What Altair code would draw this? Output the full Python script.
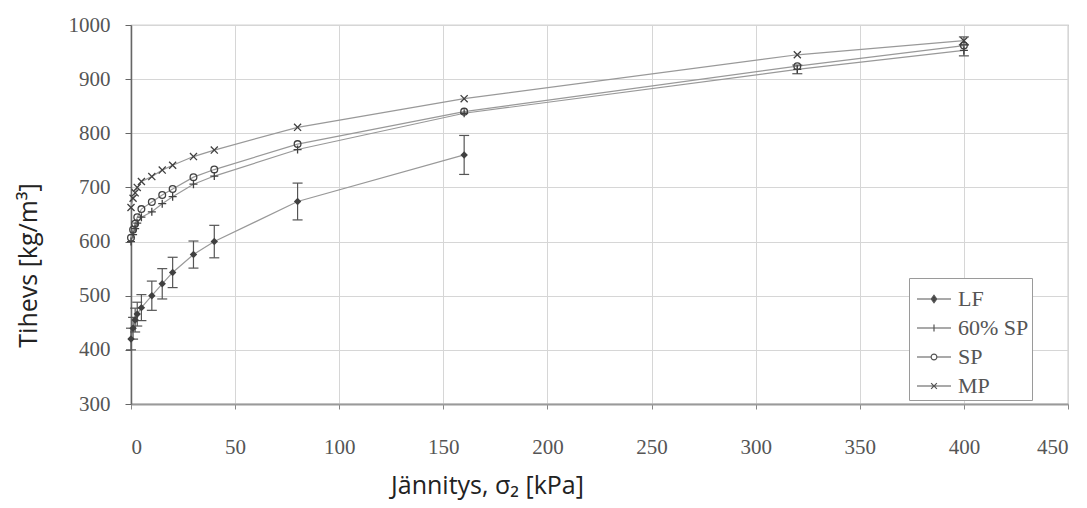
import altair as alt
import pandas as pd

# ---- data ----
series_names = ["LF", "60% SP", "SP", "MP"]

x_vals = [0, 1, 2, 3, 5, 10, 15, 20, 30, 40, 80, 160, 320, 400]

lf_x = [0, 1, 2, 3, 5, 10, 15, 20, 30, 40, 80, 160]
lf_y = [420, 440, 455, 466, 478, 500, 522, 543, 576, 600, 674, 760]
lf_err = [20, 20, 22, 22, 24, 27, 28, 28, 25, 30, 34, 36]

sp60_y = [600, 613, 624, 634, 645, 655, 670, 683, 706, 721, 770, 837, 918, 953]
sp60_err = [0, 0, 0, 0, 0, 0, 0, 0, 0, 0, 0, 0, 8, 10]

sp_y = [607, 622, 633, 645, 660, 673, 686, 697, 719, 733, 780, 840, 924, 962]
sp_err = [0, 0, 0, 0, 0, 0, 0, 0, 0, 0, 0, 0, 0, 0]

mp_y = [663, 680, 690, 700, 711, 720, 732, 741, 757, 769, 811, 864, 945, 971]
mp_err = [0, 0, 0, 0, 0, 0, 0, 0, 0, 0, 0, 0, 0, 7]

x_ticks = [0, 50, 100, 150, 200, 250, 300, 350, 400, 450]
y_ticks = [300, 400, 500, 600, 700, 800, 900, 1000]

# ---- build table ----
rows = []
for xs, ys, es, name in [
    (lf_x, lf_y, lf_err, "LF"),
    (x_vals, sp60_y, sp60_err, "60% SP"),
    (x_vals, sp_y, sp_err, "SP"),
    (x_vals, mp_y, mp_err, "MP"),
]:
    for xv, yv, ev in zip(xs, ys, es):
        rows.append({"series": name, "x": xv, "y": yv, "err": ev,
                     "lo": yv - ev, "hi": yv + ev})
df = pd.DataFrame(rows)

# ---- styles ----
LINE_C = "#999999"
MARK_C = "#404040"
SERIF = "Liberation Serif"
SANS = "Open Sans"

x_enc = alt.X("x:Q", scale=alt.Scale(domain=[0, 450], nice=False),
              axis=alt.Axis(values=x_ticks, grid=True, gridColor="#d6d6d6",
                            tickSize=5, tickColor="#888", domainColor="#9a9a9a",
                            domainWidth=2, labelFont=SERIF, labelFontSize=21,
                            labelColor="#555", labelPadding=27, format="d",
                            title="Jännitys, σ₂ [kPa]", titleFont=SANS,
                            titleFontSize=25, titleFontWeight="normal",
                            titleColor="#222", titleX=356, titleY=81,
                            titleAlign="center", titleBaseline="middle"))
y_enc = alt.Y("y:Q", scale=alt.Scale(domain=[300, 1000], nice=False),
              axis=alt.Axis(values=y_ticks, grid=True, gridColor="#d6d6d6",
                            tickSize=6, tickColor="#666", domainColor="#666",
                            domainWidth=1.5, labelFont=SERIF, labelFontSize=21,
                            labelColor="#555", labelPadding=15, format="d",
                            title="Tihevs [kg/m³]", titleFont=SANS,
                            titleFontSize=25, titleFontWeight="normal",
                            titleColor="#222", titleX=-103, titleY=240,
                            titleAlign="center", titleBaseline="middle"))

base = alt.Chart(df)

lines = base.mark_line(color=LINE_C, strokeWidth=1.2).encode(
    x=x_enc, y=y_enc, detail="series:N", order="x:Q")

err_base = base.transform_filter(alt.datum.err > 0)
err_rules = err_base.mark_rule(color="#555", strokeWidth=1.2).encode(
    x="x:Q", y="lo:Q", y2="hi:Q")
err_caps_lo = err_base.mark_tick(orient="horizontal", color="#555", size=10,
                                 thickness=1.2, opacity=1).encode(x="x:Q", y="lo:Q")
err_caps_hi = err_base.mark_tick(orient="horizontal", color="#555", size=10,
                                 thickness=1.2, opacity=1).encode(x="x:Q", y="hi:Q")

plus_path = "M-1,0L1,0M0,-1L0,1"
x_path = "M-1,-1L1,1M-1,1L1,-1"

pts_lf = base.transform_filter(alt.datum.series == "LF").mark_point(
    shape="diamond", filled=True, size=55, color=MARK_C, opacity=1).encode(x="x:Q", y="y:Q")
pts_60 = base.transform_filter(alt.datum.series == "60% SP").mark_point(
    shape=plus_path, filled=False, size=64, color=MARK_C, strokeWidth=1.3,
    opacity=1).encode(x="x:Q", y="y:Q")
pts_sp = base.transform_filter(alt.datum.series == "SP").mark_point(
    shape="circle", filled=False, size=45, color=MARK_C, strokeWidth=1.3,
    opacity=1).encode(x="x:Q", y="y:Q")
pts_mp = base.transform_filter(alt.datum.series == "MP").mark_point(
    shape=x_path, filled=False, size=50, color=MARK_C, strokeWidth=1.3,
    opacity=1).encode(x="x:Q", y="y:Q")

legend_paths = [
    "M-1,0L1,0M0,-0.22L0.16,0L0,0.22L-0.16,0Z",
    "M-1,0L1,0M0,-0.2L0,0.2",
    "M-1,0L-0.17,0M0.17,0L1,0M0.17,0A0.17,0.17 0 1,1 -0.17,0A0.17,0.17 0 1,1 0.17,0",
    "M-1,0L1,0M-0.17,-0.17L0.17,0.17M-0.17,0.17L0.17,-0.17",
]
legend_fills = ["#404040", "transparent", "transparent", "transparent"]
legend_strokes = ["#555555", "#555555", "#555555", "#555555"]

leg = alt.Legend(title=None, orient="none", legendX=778, legendY=253,
                 strokeColor="#9a9a9a", fillColor="white", padding=3,
                 symbolSize=1156, rowPadding=0, symbolStrokeWidth=1.2,
                 symbolOffset=4,
                 labelFont=SERIF, labelFontSize=22,
                 labelColor="#555", labelOffset=6, cornerRadius=0)

legend_layer = base.transform_filter(alt.datum.x < 0).mark_point(
    opacity=1, strokeWidth=1.2).encode(
    x="x:Q", y="y:Q",
    shape=alt.Shape("series:N", scale=alt.Scale(domain=series_names, range=legend_paths),
                    legend=leg, sort=series_names),
    fill=alt.Fill("series:N", scale=alt.Scale(domain=series_names, range=legend_fills),
                  legend=leg, sort=series_names),
    stroke=alt.Stroke("series:N", scale=alt.Scale(domain=series_names, range=legend_strokes),
                      legend=leg, sort=series_names),
)

chart = alt.layer(
    lines, err_rules, err_caps_lo, err_caps_hi,
    pts_60, pts_sp, pts_mp, pts_lf, legend_layer
).properties(
    width=937, height=379,
    autosize=alt.AutoSizeParams(type="none"),
    padding={"left": 123, "top": 17, "right": 11, "bottom": 96},
    background="white",
).configure_view(stroke="#a8a8a8", strokeWidth=1.2)

chart.save("out.html", embed_options={"renderer": "svg", "actions": False})
